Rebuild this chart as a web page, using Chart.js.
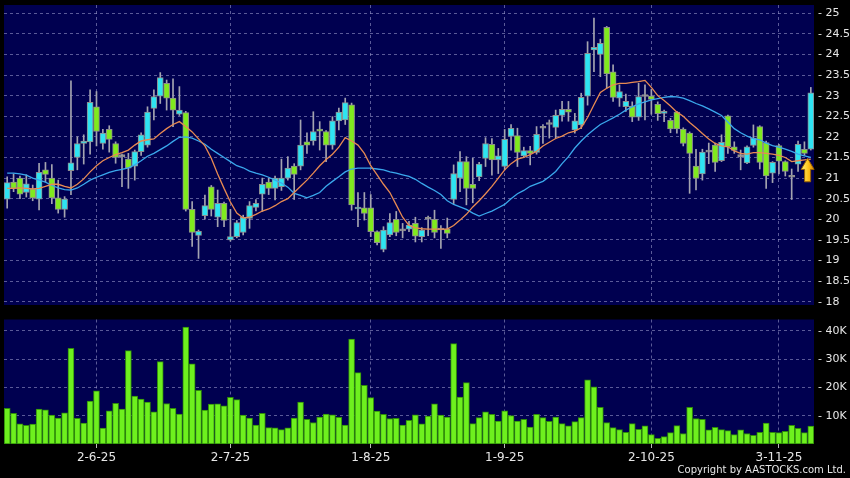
<!DOCTYPE html>
<html>
<head>
<meta charset="utf-8">
<script src="https://cdn.jsdelivr.net/npm/chart.js@4.4.1/dist/chart.umd.min.js"></script>
<style>
  html, body { margin: 0; padding: 0; background: #000; }
  #wrap { position: relative; width: 850px; height: 478px; overflow: hidden; background: #000; }
  #priceChart { position: absolute; left: 0; top: 0; }
  #volChart { position: absolute; left: 0; top: 312px; }
  #copy { position: absolute; right: 4px; top: 464px; font: 10px "DejaVu Sans", sans-serif;
          line-height: 12px; color: #e6e6e6; white-space: nowrap; }
</style>
</head>
<body>
<div id="wrap">
  <canvas id="priceChart" width="850" height="312"></canvas>
  <canvas id="volChart" width="850" height="166"></canvas>
  <div id="copy">Copyright by AASTOCKS.com Ltd.</div>
</div>
<script>
// trading days shown on the chart (D-M-YY)
var dates = [
  '13-5-25','14-5-25','15-5-25','16-5-25','19-5-25','20-5-25','21-5-25','22-5-25','23-5-25','26-5-25','27-5-25','28-5-25','29-5-25','30-5-25',
  '2-6-25','3-6-25','4-6-25','5-6-25','6-6-25','9-6-25','10-6-25','11-6-25','12-6-25','13-6-25','16-6-25','17-6-25','18-6-25','19-6-25','20-6-25','23-6-25','24-6-25','25-6-25','26-6-25','27-6-25','30-6-25',
  '2-7-25','3-7-25','4-7-25','7-7-25','8-7-25','9-7-25','10-7-25','11-7-25','14-7-25','15-7-25','16-7-25','17-7-25','18-7-25','21-7-25','22-7-25','23-7-25','24-7-25','25-7-25','28-7-25','29-7-25','30-7-25','31-7-25',
  '1-8-25','4-8-25','5-8-25','6-8-25','7-8-25','8-8-25','11-8-25','12-8-25','13-8-25','14-8-25','15-8-25','18-8-25','19-8-25','20-8-25','21-8-25','22-8-25','25-8-25','26-8-25','27-8-25','28-8-25','29-8-25',
  '1-9-25','2-9-25','3-9-25','4-9-25','5-9-25','8-9-25','9-9-25','10-9-25','11-9-25','12-9-25','15-9-25','16-9-25','17-9-25','18-9-25','19-9-25','22-9-25','23-9-25','24-9-25','25-9-25','26-9-25','29-9-25','30-9-25',
  '1-10-25','2-10-25','3-10-25','6-10-25','8-10-25','9-10-25','10-10-25','13-10-25','14-10-25','15-10-25','16-10-25','17-10-25','20-10-25','21-10-25','22-10-25','23-10-25','24-10-25','27-10-25','28-10-25','30-10-25','31-10-25',
  '3-11-25','4-11-25','5-11-25','6-11-25','7-11-25','10-11-25'
];
var axisDates = ['2-6-25', '2-7-25', '1-8-25', '1-9-25', '2-10-25', '3-11-25'];
var priceTicks = [18, 18.5, 19, 19.5, 20, 20.5, 21, 21.5, 22, 22.5, 23, 23.5, 24, 24.5, 25];
var volTicks = [10000, 20000, 30000, 40000];

var opens = [
  20.49,20.90,21.00,20.65,20.73,20.49,21.20,21.00,20.52,20.24,
  21.18,21.50,21.84,21.88,22.73,21.84,22.18,21.84,21.52,21.46,
  21.29,21.64,21.80,22.69,22.99,23.30,22.94,22.55,22.59,20.24,
  19.61,20.09,20.79,20.05,20.39,19.50,19.58,19.68,20.02,20.29,
  20.61,20.90,20.75,20.79,21.00,21.29,21.29,21.88,21.90,22.19,
  22.13,21.80,22.39,22.41,22.78,20.25,20.28,20.28,19.70,19.27,
  19.62,20.00,19.72,19.76,19.90,19.58,20.00,20.00,19.74,19.76,
  20.48,21.00,21.40,20.85,21.03,21.48,21.82,21.44,21.28,22.01,
  22.03,21.54,21.67,21.62,22.21,22.30,22.23,22.52,22.67,22.17,
  22.29,22.99,24.11,24.00,24.66,23.58,22.94,22.73,22.75,22.48,
  22.98,22.99,22.79,22.57,22.40,22.60,22.19,22.09,21.29,21.10,
  21.63,21.80,21.42,22.51,21.76,21.52,21.37,21.79,22.25,21.86,
  21.12,21.79,21.40,21.02,21.34,21.70,21.70
];
var highs = [
  21.03,21.10,21.05,21.08,20.83,21.36,21.38,21.33,20.95,20.55,
  23.36,22.00,22.05,23.14,23.10,22.18,22.27,21.88,21.58,21.60,
  21.68,22.10,22.73,23.14,23.56,23.38,23.41,23.22,22.62,20.43,
  19.74,20.59,20.82,20.71,20.42,20.24,19.97,20.10,20.43,20.48,
  21.00,21.00,21.05,21.46,21.52,21.35,22.41,22.10,22.61,22.37,
  22.15,22.49,22.70,22.94,22.82,20.65,20.65,20.60,19.72,19.82,
  20.14,20.19,19.90,19.95,20.05,19.80,20.08,20.22,19.85,20.03,
  21.32,21.64,21.52,21.48,21.38,21.98,21.96,21.72,22.18,22.30,
  22.21,21.75,21.77,22.25,22.30,22.41,22.65,22.86,22.86,22.57,
  23.06,24.31,24.88,24.37,24.68,23.75,23.26,23.04,22.85,23.30,
  23.26,23.15,22.85,22.65,22.45,22.62,22.22,22.12,21.70,21.70,
  21.85,21.85,22.05,22.53,21.88,21.68,21.78,22.29,22.27,21.90,
  21.40,21.82,21.42,21.22,21.90,21.88,23.20
];
var lows = [
  20.27,20.67,20.50,20.54,20.45,20.23,20.91,20.38,20.15,20.05,
  20.60,21.20,21.34,21.58,21.78,21.70,21.63,21.36,20.79,20.75,
  20.95,21.55,21.75,22.41,22.81,22.65,22.25,22.52,20.20,19.34,
  19.05,20.00,20.08,19.82,19.82,19.47,19.55,19.62,19.78,20.20,
  20.19,20.60,20.47,20.70,20.95,20.48,21.20,21.60,21.80,21.68,
  21.40,21.70,22.17,22.30,20.22,19.82,19.98,19.58,19.38,19.21,
  19.58,19.60,19.55,19.70,19.45,19.45,19.60,19.55,19.29,19.55,
  20.38,20.67,20.35,20.40,20.94,21.28,21.07,21.11,21.20,21.68,
  21.28,21.50,21.32,21.58,21.84,21.97,21.97,22.38,22.38,22.09,
  22.20,22.77,23.58,23.46,23.18,22.86,22.74,22.62,22.37,22.40,
  22.41,22.55,22.40,22.37,22.10,22.09,21.78,20.63,20.71,20.95,
  21.35,21.16,21.40,21.60,21.60,21.20,21.35,21.75,21.22,20.75,
  20.89,21.10,21.05,20.48,21.16,21.55,21.68
];
var closes = [
  20.89,20.75,20.61,20.86,20.52,21.14,21.09,20.52,20.24,20.49,
  21.37,21.84,21.90,22.84,22.13,22.09,21.94,21.50,21.52,21.24,
  21.64,22.05,22.60,22.98,23.44,22.94,22.65,22.65,20.24,19.68,
  19.71,20.33,20.24,20.39,19.97,19.58,19.92,20.05,20.33,20.39,
  20.85,20.75,21.00,21.00,21.24,21.09,21.80,21.80,22.13,22.14,
  21.80,22.39,22.60,22.83,20.35,20.29,20.14,19.70,19.43,19.74,
  19.92,19.68,19.72,19.86,19.59,19.74,20.00,19.68,19.74,19.66,
  21.11,21.40,20.75,20.75,21.34,21.84,21.44,21.54,21.94,22.21,
  21.62,21.67,21.60,22.06,22.21,22.30,22.52,22.67,22.60,22.39,
  22.96,24.03,24.17,24.27,23.53,22.96,23.10,22.86,22.48,22.98,
  22.98,22.91,22.56,22.61,22.19,22.19,21.84,21.60,20.99,21.63,
  21.63,21.38,21.87,21.76,21.67,21.52,21.76,21.97,21.38,21.05,
  21.38,21.41,21.16,21.02,21.82,21.60,23.07
];
// moving averages as drawn on the chart
var maShort = [
  20.75,20.75,20.76,20.75,20.74,20.75,20.80,20.85,20.85,20.80,
  20.76,20.85,20.98,21.15,21.30,21.42,21.50,21.57,21.62,21.68,
  21.80,21.90,21.93,21.95,22.08,22.20,22.30,22.37,22.25,22.12,
  21.95,21.78,21.48,21.10,20.75,20.42,20.15,20.03,20.05,20.12,
  20.20,20.25,20.33,20.43,20.50,20.65,20.80,20.95,21.12,21.30,
  21.45,21.58,21.75,21.98,21.90,21.80,21.60,21.30,21.08,20.85,
  20.65,20.35,20.05,19.85,19.79,19.77,19.76,19.76,19.76,19.76,
  19.85,19.98,20.12,20.30,20.45,20.62,20.80,21.00,21.20,21.35,
  21.46,21.50,21.57,21.65,21.78,21.87,21.96,22.02,22.10,22.14,
  22.22,22.47,22.78,23.08,23.18,23.26,23.30,23.30,23.32,23.34,
  23.37,23.20,23.00,22.88,22.75,22.60,22.50,22.35,22.22,22.08,
  21.95,21.84,21.78,21.76,21.66,21.60,21.58,21.62,21.62,21.60,
  21.58,21.55,21.50,21.40,21.42,21.44,21.46
];
var maLong = [
  21.12,21.12,21.10,21.07,21.00,20.95,20.90,20.82,20.76,20.72,
  20.71,20.76,20.85,20.95,21.02,21.08,21.14,21.18,21.21,21.25,
  21.32,21.42,21.53,21.60,21.69,21.78,21.89,21.99,22.00,21.97,
  21.90,21.82,21.70,21.60,21.50,21.40,21.30,21.25,21.17,21.12,
  21.08,21.02,20.95,20.88,20.78,20.63,20.58,20.52,20.58,20.65,
  20.80,20.92,21.03,21.15,21.22,21.24,21.24,21.24,21.22,21.20,
  21.15,21.12,21.08,21.04,20.97,20.87,20.78,20.70,20.60,20.45,
  20.36,20.30,20.24,20.15,20.08,20.14,20.20,20.28,20.36,20.50,
  20.62,20.70,20.80,20.86,20.92,21.03,21.16,21.35,21.52,21.73,
  21.90,22.05,22.18,22.30,22.38,22.46,22.55,22.65,22.73,22.80,
  22.85,22.90,22.93,22.96,22.98,22.97,22.94,22.88,22.81,22.75,
  22.68,22.60,22.52,22.36,22.20,22.10,22.02,21.96,21.93,21.85,
  21.79,21.75,21.70,21.65,21.58,21.54,21.50
];
var volumes = [
  12600,10800,7100,6600,7000,12300,12100,10200,9200,11000,
  33800,9100,7400,15200,18800,5600,11700,14400,12300,33000,
  16900,15900,14800,11400,29100,14300,12600,10600,41300,28300,
  19000,12000,14100,14200,13500,16500,15700,10200,9200,6700,
  10800,5800,5700,5100,5700,9200,14800,8700,7600,9500,
  10600,10300,9400,6700,37100,25200,20700,16400,11600,10500,
  9000,9100,6700,8400,10300,7100,9900,14200,10200,9500,
  35500,16600,21700,7200,9300,11400,10500,8100,11700,10000,
  8100,8700,6000,10500,9300,8000,9500,7200,6400,7900,
  9300,22700,20200,13000,7600,5800,5100,4100,7200,5200,
  6400,3300,2000,2600,4000,6500,3700,13000,9000,8700,
  5000,5900,5100,4700,3300,5000,3700,3100,4100,7400,
  4100,4000,4500,6600,5500,4000,6300
];

// axis ranges
var priceMin = 17.92, priceMax = 25.2;
var volMax = 44000;
// the yellow signal arrow, in data units
var arrowAt = { from: 125, to: 126, tip: 21.48, neck: 21.21, base: 20.91 };

var NAVY = '#000050';
var GRID = 'rgba(150,150,200,0.6)';
var CYAN = '#2ee4f2';
var LIME = '#80ea1e';
var DOJI = '#a0a0a0';

Chart.defaults.font.family = '"DejaVu Sans", sans-serif';
Chart.defaults.color = '#e6e6e6';
Chart.defaults.animation = false;

var plotBg = {
  id: 'plotBg',
  beforeDraw: function(chart) {
    var a = chart.chartArea, c = chart.ctx;
    c.save();
    c.fillStyle = NAVY;
    c.fillRect(a.left, a.top, a.right - a.left, a.bottom - a.top);
    c.restore();
  }
};

var arrowMark = {
  id: 'arrowMark',
  afterDatasetsDraw: function(chart) {
    var xs = chart.scales.x, ys = chart.scales.y, c = chart.ctx;
    var cx = (xs.getPixelForValue(arrowAt.from) + xs.getPixelForValue(arrowAt.to)) / 2;
    var tip = ys.getPixelForValue(arrowAt.tip);
    var neck = ys.getPixelForValue(arrowAt.neck);
    var base = ys.getPixelForValue(arrowAt.base);
    var head = 6.5, shaft = 3;
    c.save();
    var g = c.createLinearGradient(cx - head, 0, cx + head, 0);
    g.addColorStop(0, '#fff27a');
    g.addColorStop(0.55, '#ffc21a');
    g.addColorStop(1, '#d98a00');
    c.beginPath();
    c.moveTo(cx, tip);
    c.lineTo(cx + head, neck);
    c.lineTo(cx + shaft, neck);
    c.lineTo(cx + shaft, base);
    c.lineTo(cx - shaft, base);
    c.lineTo(cx - shaft, neck);
    c.lineTo(cx - head, neck);
    c.closePath();
    c.fillStyle = g;
    c.fill();
    c.strokeStyle = '#9a6200';
    c.lineWidth = 1;
    c.stroke();
    c.restore();
  }
};

function isAxisDate(index) {
  return axisDates.indexOf(dates[index]) >= 0;
}

function fixedTicks(list) {
  return function(s) {
    s.ticks = list.map(function(v) { return { value: v }; });
  };
}

// right-hand value axis: fixed width, no extra room reserved for edge labels
function rightAxisFit(s) {
  s.width = 36;
  s.paddingTop = 0;
  s.paddingBottom = 0;
}

var wicks = [], bodies = [], bodyColors = [];
for (var i = 0; i < dates.length; i++) {
  wicks.push([lows[i], highs[i]]);
  bodies.push([opens[i], closes[i]]);
  bodyColors.push(closes[i] > opens[i] ? CYAN : (closes[i] < opens[i] ? LIME : DOJI));
}

new Chart(document.getElementById('priceChart'), {
  type: 'bar',
  data: {
    labels: dates,
    datasets: [
      { type: 'line', data: maShort, borderColor: '#e88a52', borderWidth: 1.3, pointRadius: 0, order: 0 },
      { type: 'line', data: maLong, borderColor: '#3aa8ec', borderWidth: 1.3, pointRadius: 0, order: 1 },
      { data: bodies, backgroundColor: bodyColors, borderColor: '#8e8e8e', borderWidth: 1,
        borderSkipped: false, barThickness: 6, minBarLength: 2, grouped: false, order: 2 },
      { data: wicks, backgroundColor: '#a4a4b0', barThickness: 1, grouped: false, order: 3 }
    ]
  },
  options: {
    responsive: false,
    devicePixelRatio: 1,
    layout: { padding: { left: 4, top: 5, right: 0, bottom: 7 } },
    plugins: { legend: { display: false }, tooltip: { enabled: false } },
    scales: {
      x: {
        type: 'category',
        offset: true,
        grid: {
          offset: false, drawTicks: false,
          color: function(ctx) { return isAxisDate(ctx.index) ? GRID : 'rgba(0,0,0,0)'; }
        },
        border: { display: false, dash: [3, 3] },
        ticks: { display: false, autoSkip: false },
        afterFit: function(s) { s.height = 0; s.paddingLeft = 0; s.paddingRight = 0; }
      },
      y: {
        position: 'right',
        min: priceMin, max: priceMax,
        grid: { color: GRID, drawTicks: false },
        border: { display: false, dash: [3, 3] },
        ticks: {
          padding: 4, color: '#e6e6e6', font: { size: 11 },
          callback: function(v) { return '- ' + v; }
        },
        afterBuildTicks: fixedTicks(priceTicks),
        afterFit: rightAxisFit
      }
    }
  },
  plugins: [plotBg, arrowMark]
});

new Chart(document.getElementById('volChart'), {
  type: 'bar',
  data: {
    labels: dates,
    datasets: [
      { data: volumes, backgroundColor: '#6ef01e', borderColor: '#2f8c0a', borderWidth: 1,
        borderSkipped: false, barThickness: 6 }
    ]
  },
  options: {
    responsive: false,
    devicePixelRatio: 1,
    layout: { padding: { left: 4, top: 7.5, right: 0, bottom: 0 } },
    plugins: { legend: { display: false }, tooltip: { enabled: false } },
    scales: {
      x: {
        type: 'category',
        offset: true,
        grid: {
          offset: false, drawTicks: true, tickLength: 4,
          color: function(ctx) { return isAxisDate(ctx.index) ? GRID : 'rgba(0,0,0,0)'; },
          tickColor: function(ctx) { return isAxisDate(ctx.index) ? '#bbbbbb' : 'rgba(0,0,0,0)'; }
        },
        border: { display: false, dash: [3, 3] },
        ticks: {
          autoSkip: false, maxRotation: 0, color: '#e6e6e6', font: { size: 12 },
          callback: function(v, idx) { return isAxisDate(idx) ? dates[idx] : ''; }
        },
        afterFit: function(s) { s.height = 34; s.paddingLeft = 0; s.paddingRight = 0; }
      },
      y: {
        position: 'right',
        min: 0, max: volMax,
        grid: { color: GRID, drawTicks: false },
        border: { display: false, dash: [3, 3] },
        ticks: {
          padding: 4, color: '#e6e6e6', font: { size: 11 },
          callback: function(v) { return '- ' + (v / 1000) + 'K'; }
        },
        afterBuildTicks: fixedTicks(volTicks),
        afterFit: rightAxisFit
      }
    }
  },
  plugins: [plotBg]
});
</script>
</body>
</html>
